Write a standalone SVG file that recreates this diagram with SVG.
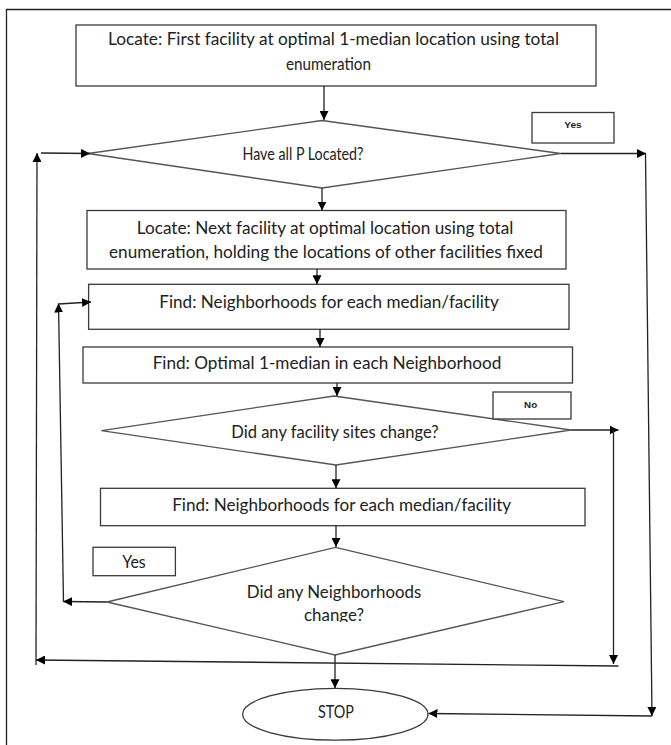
<svg xmlns="http://www.w3.org/2000/svg" width="671" height="745" viewBox="0 0 671 745">
<style>
.box{fill:#fff;stroke:#3a3a3a;stroke-width:1.3}
.dia{fill:#fff;stroke:#555;stroke-width:1.3}
.t{font-family:Lato,"Liberation Sans",sans-serif;font-size:16.5px;fill:#222;text-anchor:middle;dominant-baseline:central}
.s{font-family:"Liberation Sans",Arial,sans-serif;font-size:9.5px;font-weight:bold;fill:#222;text-anchor:middle;dominant-baseline:central}
.c{fill:none;stroke:#222;stroke-width:1.3}
.frame{fill:none;stroke:#222;stroke-width:1.3}
</style>
<defs>
<marker id="ah" markerUnits="userSpaceOnUse" markerWidth="10" markerHeight="9" refX="9" refY="4.5" orient="auto">
<path d="M0,0 L9,4.5 L0,9 Z" fill="#000"/>
</marker>
<clipPath id="clipc"><rect x="200" y="560" width="270" height="62"/></clipPath>
</defs>
<g id="frame">
<path class="frame" d="M6.5,745 L6.5,9.5 L671,9.5"/>
</g>
<g id="n1">
<rect class="box" x="76" y="25" width="520" height="61"/>
<text class="t" x="333.5" y="38.5" textLength="451" lengthAdjust="spacingAndGlyphs">Locate: First facility at optimal 1-median location using total</text>
<text class="t" x="328.5" y="63.5" textLength="85" lengthAdjust="spacingAndGlyphs">enumeration</text>
</g>
<g id="n2">
<polygon class="dia" points="322,120.5 560.5,153.5 322,188 88,153.5"/>
<text class="t" x="303" y="154" textLength="121" lengthAdjust="spacingAndGlyphs">Have all P Located?</text>
</g>
<g id="yes1">
<rect class="box" x="532" y="112.5" width="82" height="30.5"/>
<text class="s" x="573" y="124.5" textLength="17.4" lengthAdjust="spacingAndGlyphs">Yes</text>
</g>
<g id="n3">
<rect class="box" x="87" y="210.5" width="479" height="58.5"/>
<text class="t" x="325" y="227.7" textLength="376.5" lengthAdjust="spacingAndGlyphs">Locate: Next facility at optimal location using total</text>
<text class="t" x="326" y="251.7" textLength="434" lengthAdjust="spacingAndGlyphs">enumeration, holding the locations of other facilities fixed</text>
</g>
<g id="n4">
<rect class="box" x="88.6" y="284.3" width="480.4" height="45"/>
<text class="t" x="329" y="301.7" textLength="339.5" lengthAdjust="spacingAndGlyphs">Find: Neighborhoods for each median/facility</text>
</g>
<g id="n5">
<rect class="box" x="83" y="347" width="489.5" height="36"/>
<text class="t" x="327" y="362.7" textLength="348.7" lengthAdjust="spacingAndGlyphs">Find: Optimal 1-median in each Neighborhood</text>
</g>
<g id="n6">
<polygon class="dia" points="334,396 571,430 336,465 101.4,430.7"/>
<text class="t" x="335" y="431.5" textLength="207.5" lengthAdjust="spacingAndGlyphs">Did any facility sites change?</text>
</g>
<g id="no">
<rect class="box" x="493" y="392" width="78" height="27"/>
<text class="s" x="530.6" y="404.5" textLength="13" lengthAdjust="spacingAndGlyphs">No</text>
</g>
<g id="n7">
<rect class="box" x="100.5" y="488.3" width="484.5" height="37.4"/>
<text class="t" x="341.7" y="505" textLength="339" lengthAdjust="spacingAndGlyphs">Find: Neighborhoods for each median/facility</text>
</g>
<g id="yes2">
<rect class="box" x="93" y="547.3" width="82.4" height="28.4"/>
<text class="t" x="134" y="562" textLength="23.5" lengthAdjust="spacingAndGlyphs">Yes</text>
</g>
<g id="n8">
<polygon class="dia" points="335.5,547.3 564,601.7 335,655 107,602"/>
<text class="t" x="334" y="591.7" textLength="174.5" lengthAdjust="spacingAndGlyphs">Did any Neighborhoods</text>
<text class="t" x="334" y="614.5" textLength="60" lengthAdjust="spacingAndGlyphs" clip-path="url(#clipc)">change?</text>
</g>
<g id="n9">
<ellipse class="box" cx="335.3" cy="714.2" rx="92.7" ry="25.9"/>
<text class="t" x="336" y="711.7" textLength="36" lengthAdjust="spacingAndGlyphs">STOP</text>
</g>
<g id="connectors">
<line class="c" x1="324" y1="86" x2="324" y2="120" marker-end="url(#ah)"/>
<line class="c" x1="560.5" y1="153.5" x2="646" y2="153.5" marker-end="url(#ah)"/>
<line class="c" x1="645.5" y1="154" x2="652" y2="716" marker-end="url(#ah)"/>
<line class="c" x1="652" y1="716" x2="428.5" y2="713.5" marker-end="url(#ah)"/>
<line class="c" x1="322" y1="188" x2="322" y2="210.5" marker-end="url(#ah)"/>
<line class="c" x1="317" y1="269" x2="317" y2="284.3" marker-end="url(#ah)"/>
<line class="c" x1="320" y1="329.3" x2="320" y2="347" marker-end="url(#ah)"/>
<line class="c" x1="337" y1="383" x2="337" y2="396" marker-end="url(#ah)"/>
<line class="c" x1="571" y1="430" x2="618.5" y2="430" marker-end="url(#ah)"/>
<line class="c" x1="613.5" y1="430" x2="613.5" y2="664" marker-end="url(#ah)"/>
<line class="c" x1="618.5" y1="666" x2="36" y2="660" marker-end="url(#ah)"/>
<line class="c" x1="36" y1="665" x2="37" y2="153" marker-end="url(#ah)"/>
<line class="c" x1="41" y1="153" x2="90" y2="153.5" marker-end="url(#ah)"/>
<line class="c" x1="336" y1="465" x2="336" y2="488.3" marker-end="url(#ah)"/>
<line class="c" x1="336" y1="525.7" x2="336" y2="547" marker-end="url(#ah)"/>
<line class="c" x1="107" y1="602" x2="63" y2="601.5" marker-end="url(#ah)"/>
<line class="c" x1="63.5" y1="602" x2="58.5" y2="303.5" marker-end="url(#ah)"/>
<line class="c" x1="58.5" y1="304" x2="91" y2="302" marker-end="url(#ah)"/>
<line class="c" x1="335" y1="655" x2="335" y2="688.3" marker-end="url(#ah)"/>
</g>
</svg>
